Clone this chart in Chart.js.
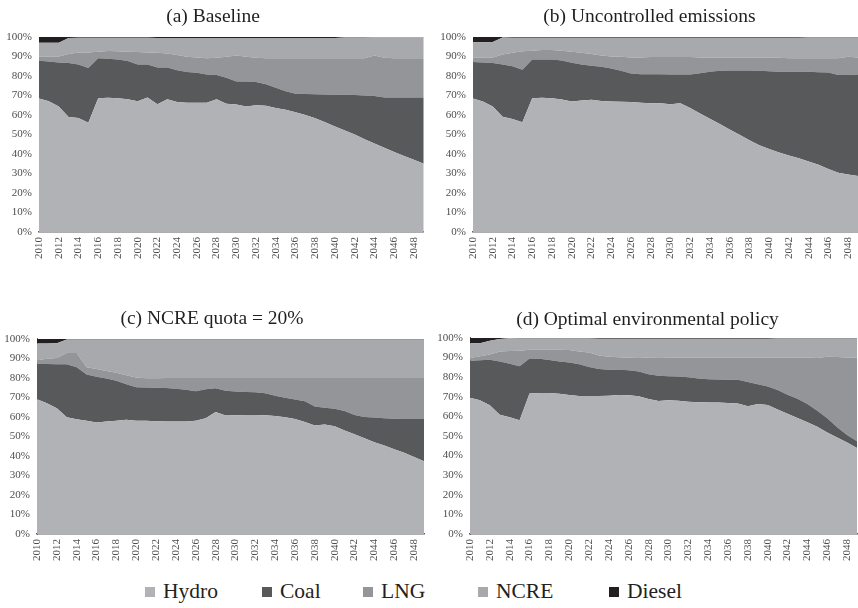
<!DOCTYPE html>
<html>
<head>
<meta charset="utf-8">
<title>Generation mix by scenario</title>
<script src="https://cdn.jsdelivr.net/npm/chart.js@4.4.1/dist/chart.umd.min.js"></script>
<style>
  html, body { margin: 0; padding: 0; background: #fff; overflow: hidden; }
  #wrap { position: relative; width: 858px; height: 608px; overflow: hidden; background: #fff; }
  #wrap canvas { position: absolute; }
  #legend { position: absolute; left: 0; top: 579px; width: 858px; height: 26px; font-family: "Liberation Serif", "Times New Roman", serif; font-size: 21.5px; line-height: 24px; color: #231f20; }
  .item { position: absolute; top: 0; display: flex; align-items: center; white-space: nowrap; }
  .swatch { width: 10px; height: 10px; margin-right: 8px; margin-top: 2px; }
</style>
</head>
<body>
<div id="wrap">
  <canvas id="chartA" width="442" height="266" style="left:0;top:0"></canvas>
  <canvas id="chartB" width="447" height="266" style="left:441px;top:0"></canvas>
  <canvas id="chartC" width="459" height="268" style="left:0;top:300px"></canvas>
  <canvas id="chartD" width="488" height="268" style="left:438px;top:300px"></canvas>
  <div id="legend"></div>
</div>
<script>
const years = ['2010', '2011', '2012', '2013', '2014', '2015', '2016', '2017', '2018', '2019',
               '2020', '2021', '2022', '2023', '2024', '2025', '2026', '2027', '2028', '2029',
               '2030', '2031', '2032', '2033', '2034', '2035', '2036', '2037', '2038', '2039',
               '2040', '2041', '2042', '2043', '2044', '2045', '2046', '2047', '2048', '2049']

const seriesNames = ['Hydro', 'Coal', 'LNG', 'NCRE', 'Diesel']
const seriesColors = ['#b1b2b5', '#58595b', '#939598', '#a7a9ac', '#231f20']

// shares of generation (%), one value per year

// (a) Baseline
const baseHydro = [68.4, 67.0, 64.3, 59.0, 58.4, 56.0, 68.6, 68.8, 68.6, 68.0,
                   67.0, 69.0, 65.5, 68.0, 66.6, 66.2, 66.2, 66.2, 68.0, 65.7,
                   65.3, 64.3, 65.0, 64.7, 63.6, 62.6, 61.4, 60.0, 58.3, 56.2,
                   54.1, 52.0, 50.0, 47.5, 45.3, 43.2, 41.0, 39.0, 37.0, 35.0]
const baseCoal = [19.4, 20.4, 22.6, 27.6, 27.5, 28.1, 20.4, 20.0, 19.8, 19.6,
                  18.9, 16.9, 18.8, 16.3, 16.3, 15.8, 15.4, 14.5, 12.5, 13.3,
                  11.9, 12.9, 11.9, 11.0, 10.4, 9.6, 9.5, 10.7, 12.3, 14.3,
                  16.3, 18.3, 20.2, 22.5, 24.4, 25.8, 28.0, 30.0, 32.0, 34.0]
const baseLng = [2.0, 2.6, 3.1, 4.6, 6.1, 7.9, 3.4, 4.0, 4.2, 4.8,
                 6.3, 6.1, 7.6, 7.2, 7.8, 7.8, 7.9, 8.3, 8.8, 10.8,
                 13.3, 12.6, 12.4, 13.3, 15.0, 16.8, 18.1, 18.3, 18.4, 18.5,
                 18.6, 18.7, 18.8, 19.0, 20.8, 20.3, 20.0, 20.0, 20.0, 20.0]
const baseNcre = [7.2, 7.0, 7.0, 8.3, 7.6, 7.6, 7.2, 6.8, 7.0, 7.2,
                  7.4, 7.6, 7.6, 8.0, 8.8, 9.7, 10.0, 10.5, 10.2, 9.7,
                  9.0, 9.7, 10.2, 10.5, 10.5, 10.5, 10.5, 10.5, 10.5, 10.5,
                  10.5, 10.7, 10.7, 10.7, 9.3, 10.5, 10.8, 10.8, 10.8, 10.8]
const baseDiesel = [3.0, 3.0, 3.0, 0.5, 0.4, 0.4, 0.4, 0.4, 0.4, 0.4,
                    0.4, 0.4, 0.5, 0.5, 0.5, 0.5, 0.5, 0.5, 0.5, 0.5,
                    0.5, 0.5, 0.5, 0.5, 0.5, 0.5, 0.5, 0.5, 0.5, 0.5,
                    0.5, 0.3, 0.3, 0.3, 0.2, 0.2, 0.2, 0.2, 0.2, 0.2]

// (b) Uncontrolled emissions
const freeHydro = [68.4, 66.9, 64.3, 59.1, 57.9, 56.2, 68.6, 68.8, 68.6, 67.9,
                   66.9, 67.4, 67.8, 67.1, 66.9, 66.7, 66.6, 66.2, 66.0, 66.0,
                   65.5, 66.0, 63.5, 60.8, 58.0, 55.3, 52.5, 49.8, 47.0, 44.5,
                   42.5, 40.8, 39.2, 37.8, 36.1, 34.5, 32.3, 30.4, 29.5, 28.7]
const freeCoal = [18.7, 20.0, 22.3, 26.8, 27.1, 26.9, 19.8, 19.6, 19.8, 20.0,
                  19.8, 18.5, 17.4, 17.6, 16.9, 15.9, 14.6, 14.7, 14.9, 14.9,
                  15.2, 14.7, 17.2, 20.6, 24.2, 27.3, 30.3, 33.0, 35.8, 38.1,
                  39.9, 41.4, 42.9, 44.3, 46.0, 47.4, 49.4, 50.1, 51.0, 52.0]
const freeLng = [2.4, 2.6, 2.9, 5.1, 6.9, 9.5, 4.5, 4.9, 4.9, 5.0,
                 5.7, 6.0, 6.0, 5.8, 6.2, 7.2, 8.3, 8.6, 8.8, 8.8,
                 9.0, 9.0, 9.0, 8.1, 7.3, 6.9, 6.7, 6.7, 6.7, 6.9,
                 7.1, 7.1, 7.0, 7.0, 7.0, 7.2, 7.4, 8.6, 9.3, 8.8]
const freeNcre = [7.7, 7.7, 7.9, 8.7, 7.7, 7.0, 6.7, 6.3, 6.3, 6.7,
                  7.2, 7.7, 8.4, 9.1, 9.6, 9.8, 10.1, 10.1, 9.9, 9.9,
                  9.9, 9.9, 9.9, 10.1, 10.1, 10.1, 10.1, 10.1, 10.1, 10.1,
                  10.1, 10.3, 10.5, 10.5, 10.6, 10.6, 10.6, 10.6, 9.9, 10.2]
const freeDiesel = [2.8, 2.8, 2.6, 0.3, 0.4, 0.4, 0.4, 0.4, 0.4, 0.4,
                    0.4, 0.4, 0.4, 0.4, 0.4, 0.4, 0.4, 0.4, 0.4, 0.4,
                    0.4, 0.4, 0.4, 0.4, 0.4, 0.4, 0.4, 0.4, 0.4, 0.4,
                    0.4, 0.4, 0.4, 0.4, 0.3, 0.3, 0.3, 0.3, 0.3, 0.3]

// (c) NCRE quota = 20%
const quotaHydro = [69.1, 67.0, 64.4, 59.8, 58.8, 58.0, 57.1, 57.6, 58.0, 58.5,
                    58.1, 58.0, 57.8, 57.6, 57.6, 57.6, 58.1, 59.3, 62.5, 60.7,
                    60.9, 61.0, 61.0, 60.9, 60.5, 59.8, 59.0, 57.4, 55.6, 56.1,
                    55.2, 53.0, 51.1, 49.1, 47.0, 45.3, 43.5, 41.6, 39.5, 37.3]
const quotaCoal = [18.1, 20.1, 22.6, 27.2, 26.7, 23.8, 23.5, 22.1, 20.6, 18.2,
                   17.1, 17.1, 17.2, 17.2, 16.9, 16.4, 15.1, 14.9, 12.2, 12.7,
                   12.1, 11.8, 11.6, 11.3, 10.3, 10.0, 10.0, 10.7, 9.8, 8.6,
                   9.0, 10.0, 9.9, 10.9, 12.7, 14.0, 15.6, 17.4, 19.5, 21.7]
const quotaLng = [1.8, 2.7, 3.2, 5.8, 7.3, 3.7, 4.0, 3.9, 4.0, 4.7,
                  5.0, 4.7, 4.8, 5.2, 5.5, 6.0, 6.8, 5.8, 5.3, 6.6,
                  7.0, 7.2, 7.4, 7.8, 9.2, 10.2, 11.0, 11.9, 14.6, 15.3,
                  15.8, 17.0, 19.0, 20.0, 20.3, 20.7, 20.9, 21.0, 21.0, 21.0]
const quotaNcre = [8.7, 7.9, 7.6, 6.9, 6.9, 14.2, 15.1, 16.1, 17.1, 18.3,
                   19.5, 19.9, 19.9, 19.7, 19.7, 19.7, 19.7, 19.7, 19.7, 19.7,
                   19.7, 19.7, 19.7, 19.7, 19.7, 19.7, 19.7, 19.7, 19.7, 19.7,
                   19.7, 19.7, 19.7, 19.7, 19.7, 19.7, 19.7, 19.7, 19.7, 19.7]
const quotaDiesel = [2.3, 2.3, 2.2, 0.3, 0.3, 0.3, 0.3, 0.3, 0.3, 0.3,
                     0.3, 0.3, 0.3, 0.3, 0.3, 0.3, 0.3, 0.3, 0.3, 0.3,
                     0.3, 0.3, 0.3, 0.3, 0.3, 0.3, 0.3, 0.3, 0.3, 0.3,
                     0.3, 0.3, 0.3, 0.3, 0.3, 0.3, 0.3, 0.3, 0.3, 0.3]

// (d) Optimal environmental policy
const optHydro = [69.5, 68.2, 65.6, 60.8, 59.5, 58.0, 71.7, 71.9, 71.9, 71.5,
                  70.9, 70.4, 70.4, 70.4, 70.5, 70.9, 70.8, 70.2, 68.8, 67.8,
                  68.2, 68.0, 67.5, 67.2, 67.1, 67.0, 66.8, 66.6, 65.2, 66.3,
                  65.8, 63.5, 61.3, 59.2, 57.0, 54.7, 51.8, 49.2, 46.6, 43.8]
const optCoal = [18.9, 20.4, 23.3, 27.2, 27.3, 27.5, 17.8, 17.5, 16.8, 16.5,
                 16.5, 16.2, 14.8, 13.8, 13.2, 12.8, 12.7, 12.7, 12.7, 12.9,
                 12.3, 12.3, 12.4, 12.1, 11.8, 11.8, 11.9, 12.0, 12.3, 10.1,
                 9.4, 9.9, 9.7, 9.8, 9.3, 8.1, 7.2, 5.3, 3.9, 3.5]
const optLng = [1.3, 2.0, 2.6, 5.1, 6.5, 8.0, 4.5, 4.6, 5.3, 6.0,
                6.4, 6.5, 7.3, 6.8, 6.7, 6.4, 6.4, 6.9, 8.5, 9.4,
                9.5, 9.7, 10.1, 10.7, 11.1, 11.2, 11.3, 11.4, 12.5, 13.6,
                14.8, 16.6, 19.0, 21.0, 23.7, 27.0, 31.4, 35.8, 39.5, 42.7]
const optNcre = [7.6, 6.7, 7.0, 6.4, 6.5, 6.2, 5.7, 5.7, 5.7, 5.7,
                 5.9, 6.6, 7.2, 8.6, 9.2, 9.5, 9.7, 9.8, 9.6, 9.5,
                 9.6, 9.6, 9.6, 9.6, 9.6, 9.6, 9.6, 9.6, 9.6, 9.6,
                 9.6, 9.7, 9.7, 9.7, 9.7, 9.9, 9.3, 9.4, 9.7, 9.7]
const optDiesel = [2.7, 2.7, 1.5, 0.5, 0.2, 0.3, 0.3, 0.3, 0.3, 0.3,
                   0.3, 0.3, 0.3, 0.4, 0.4, 0.4, 0.4, 0.4, 0.4, 0.4,
                   0.4, 0.4, 0.4, 0.4, 0.4, 0.4, 0.4, 0.4, 0.4, 0.4,
                   0.4, 0.3, 0.3, 0.3, 0.3, 0.3, 0.3, 0.3, 0.3, 0.3]

const panels = [
    { id: 'chartA', title: '(a) Baseline',
      series: [baseHydro, baseCoal, baseLng, baseNcre, baseDiesel],
      yWidth: 39, padRight: 16, titlePad: { top: 5, bottom: 8.5 }, yBorder: false },
    { id: 'chartB', title: '(b) Uncontrolled emissions',
      series: [freeHydro, freeCoal, freeLng, freeNcre, freeDiesel],
      yWidth: 32, padRight: 30, titlePad: { top: 5, bottom: 8.5 }, yBorder: false },
    { id: 'chartC', title: '(c) NCRE quota = 20%',
      series: [quotaHydro, quotaCoal, quotaLng, quotaNcre, quotaDiesel],
      yWidth: 37, padRight: 35, titlePad: { top: 7, bottom: 8.5 }, yBorder: true },
    { id: 'chartD', title: '(d) Optimal environmental policy',
      series: [optHydro, optCoal, optLng, optNcre, optDiesel],
      yWidth: 32, padRight: 69, titlePad: { top: 8, bottom: 6.5 }, yBorder: true }
]

const tickFont = { family: '"Liberation Serif", serif', size: 11 }

function renderPanel(panel) {
    const ctx = document.getElementById(panel.id)

    new Chart(ctx, {
        type: 'line',
        data: {
            labels: years,
            datasets: panel.series.map((values, i) => ({
                label: seriesNames[i],
                data: values,
                backgroundColor: seriesColors[i],
                borderWidth: 0,
                pointRadius: 0,
                tension: 0,
                fill: i === 0 ? 'origin' : '-1'
            }))
        },
        options: {
            responsive: false,
            animation: false,
            layout: { padding: { left: 0, right: panel.padRight, top: 0, bottom: 0 } },
            plugins: {
                legend: { display: false },
                tooltip: { enabled: false },
                title: {
                    display: true,
                    text: panel.title,
                    color: '#231f20',
                    font: { family: '"Liberation Serif", serif', size: 19.5, weight: 'normal' },
                    padding: panel.titlePad
                }
            },
            scales: {
                x: {
                    z: 1,
                    grid: { display: false, drawTicks: false },
                    border: { display: true, color: '#5f5f5f', width: 1.5 },
                    ticks: {
                        autoSkip: false,
                        minRotation: 90,
                        maxRotation: 90,
                        padding: 5,
                        color: '#4d4d4d',
                        font: tickFont,
                        callback: function (value, index) {
                            return index % 2 === 0 ? this.getLabelForValue(value) : ''
                        }
                    },
                    afterFit: scale => { scale.height = 34 }
                },
                y: {
                    stacked: true,
                    min: 0,
                    max: 100,
                    z: 1,
                    grid: { display: false, drawTicks: false },
                    border: { display: panel.yBorder, color: '#6a6a6a', width: 1 },
                    ticks: {
                        stepSize: 10,
                        padding: 7,
                        color: '#4d4d4d',
                        font: tickFont,
                        callback: value => value + '%'
                    },
                    afterFit: scale => { scale.width = panel.yWidth }
                }
            }
        }
    })
}

panels.forEach(renderPanel)

// shared legend under the four panels
const legendLeft = [145, 262, 363, 478, 609]
const legendEl = document.getElementById('legend')
seriesNames.forEach((name, i) => {
    const item = document.createElement('div')
    item.className = 'item'
    item.style.left = legendLeft[i] + 'px'
    item.innerHTML = `<span class="swatch" style="background:${seriesColors[i]}"></span><span>${name}</span>`
    legendEl.appendChild(item)
})
</script>
</body>
</html>
